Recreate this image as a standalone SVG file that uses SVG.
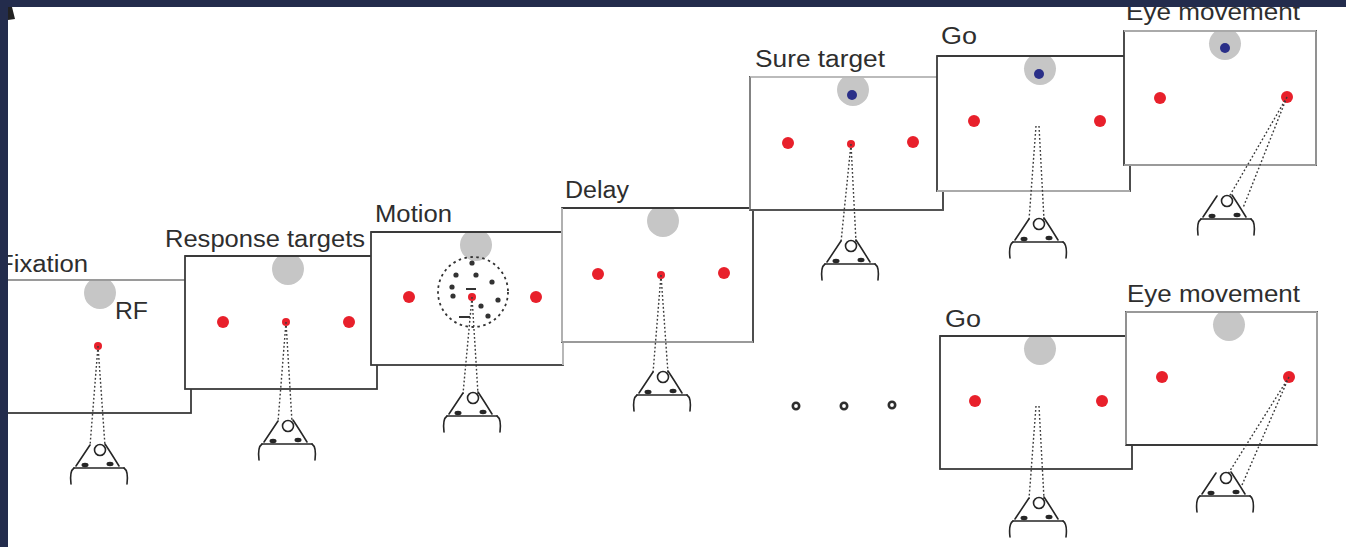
<svg xmlns="http://www.w3.org/2000/svg" xmlns:xlink="http://www.w3.org/1999/xlink" width="1346" height="547" viewBox="0 0 1346 547">
  <style>
    .pn { fill: #ffffff; stroke: #3a3a3a; stroke-width: 1.8; }
    .edge { fill: none; stroke-width: 1.8; }
    .rf { fill: #c6c6c6; }
    .tgt { fill: #e8202b; }
    .fix { fill: #e8202b; }
    .blue { fill: #2a2f88; }
    .sight { fill: none; stroke: #3a3a3a; stroke-width: 1.4; stroke-dasharray: 1.8 2.2; }
    .lbl { font-family: "Liberation Sans", Arial, sans-serif; font-size: 23px; fill: #2e2e2e; }
    .dot { fill: #333333; }
  </style>
  <defs>
    <!-- observer seen from above: head with nose, eyes and shoulders; origin at top of head -->
    <g id="head" fill="none" stroke="#262626" stroke-width="1.6" stroke-linecap="round">
      <path d="M-9,0 Q-15,9 -23,21 M6,-1 Q12,8 20,21"/>
      <circle cx="1" cy="5" r="5.5"/>
      <path d="M-25,23 L25,23"/>
      <path d="M-25,23 C-28,25 -29,31 -28,39 M25,23 C28,25 29,31 28,39"/>
      <ellipse cx="-14" cy="20" rx="3.5" ry="2.2" fill="#262626" stroke="none"/>
      <ellipse cx="11" cy="19" rx="3.5" ry="2.2" fill="#262626" stroke="none"/>
    </g>
  </defs>

  <rect x="0" y="0" width="1346" height="547" fill="#ffffff"/>

  <!-- 1: fixation -->
  <g id="panel-fixation">
    <rect class="pn" x="-2" y="280" width="193" height="133"/>
    <path class="rf" d="M89.4,281 A16,16 0 1 0 110.6,281 Z"/>
    <line class="edge" x1="-2" y1="280" x2="191" y2="280" stroke="#9a9a9a"/>
    <circle class="fix" cx="98" cy="346" r="4"/>
    <text class="lbl" x="115" y="319" textLength="33" lengthAdjust="spacingAndGlyphs">RF</text>
    <path class="sight" d="M98,346 L90,446 M98,346 L105,446"/>
    <use xlink:href="#head" href="#head" x="99" y="445"/>
    <text class="lbl" x="-2" y="272" textLength="90" lengthAdjust="spacingAndGlyphs">Fixation</text>
  </g>

  <!-- 2: response targets -->
  <g id="panel-targets">
    <rect class="pn" x="185" y="256" width="192" height="133"/>
    <path class="rf" d="M277.4,257 A16,16 0 1 0 298.6,257 Z"/>
    <line class="edge" x1="185" y1="256" x2="377" y2="256" stroke="#3a3a3a"/>
    <circle class="tgt" cx="223" cy="322" r="6"/>
    <circle class="fix" cx="286" cy="322" r="4"/>
    <circle class="tgt" cx="349" cy="322" r="6"/>
    <path class="sight" d="M286,322 L278,422 M286,322 L292,422"/>
    <use xlink:href="#head" href="#head" x="287" y="421"/>
    <text class="lbl" x="165" y="247" textLength="200" lengthAdjust="spacingAndGlyphs">Response targets</text>
  </g>

  <!-- 3: motion stimulus -->
  <g id="panel-motion">
    <rect class="pn" x="371" y="232" width="192" height="133"/>
    <path class="rf" d="M465.4,233 A16,16 0 1 0 486.6,233 Z"/>
    <line class="edge" x1="563" y1="232" x2="563" y2="365" stroke="#c4c4c4"/>
    <line class="edge" x1="371" y1="232" x2="563" y2="232" stroke="#3a3a3a"/>
    <circle cx="473" cy="292" r="35" fill="none" stroke="#333" stroke-width="1.8" stroke-dasharray="2.5 3.5"/>
    <g id="motion-dots">
      <circle class="dot" cx="472" cy="263" r="2.6"/>
      <circle class="dot" cx="456" cy="275" r="2.6"/>
      <circle class="dot" cx="476" cy="275" r="2.6"/>
      <circle class="dot" cx="492" cy="282" r="2.6"/>
      <circle class="dot" cx="452" cy="287" r="2.6"/>
      <circle class="dot" cx="453" cy="296" r="2.6"/>
      <circle class="dot" cx="498" cy="300" r="2.6"/>
      <circle class="dot" cx="481" cy="306" r="2.6"/>
      <circle class="dot" cx="488" cy="316" r="2.6"/>
      <path d="M466,289 L476,289 M459,317 L470,317" stroke="#333" stroke-width="1.8" fill="none"/>
    </g>
    <circle class="tgt" cx="409" cy="297" r="6"/>
    <circle class="fix" cx="472" cy="297" r="4"/>
    <circle class="tgt" cx="536" cy="297" r="6"/>
    <path class="sight" d="M472,297 L463,394 M472,297 L478,394"/>
    <use xlink:href="#head" href="#head" x="472" y="393"/>
    <text class="lbl" x="375" y="222" textLength="77" lengthAdjust="spacingAndGlyphs">Motion</text>
  </g>

  <!-- 4: delay -->
  <g id="panel-delay">
    <rect class="pn" x="562" y="208" width="191" height="134"/>
    <path class="rf" d="M652.4,209 A16,16 0 1 0 673.6,209 Z"/>
    <line class="edge" x1="562" y1="208" x2="753" y2="208" stroke="#3a3a3a"/>
    <line class="edge" x1="562" y1="208" x2="562" y2="342" stroke="#bcbcbc"/>
    <line class="edge" x1="562" y1="342" x2="753" y2="342" stroke="#9a9a9a"/>
    <circle class="tgt" cx="598" cy="274" r="6"/>
    <circle class="fix" cx="661" cy="275" r="4"/>
    <circle class="tgt" cx="724" cy="273" r="6"/>
    <path class="sight" d="M661,275 L653,373 M661,275 L668,373"/>
    <use xlink:href="#head" href="#head" x="662" y="372"/>
    <text class="lbl" x="565" y="198" textLength="64" lengthAdjust="spacingAndGlyphs">Delay</text>
  </g>

  <!-- 5: sure target -->
  <g id="panel-sure">
    <rect class="pn" x="750" y="77" width="193" height="133"/>
    <path class="rf" d="M842.4,78 A16,16 0 1 0 863.6,78 Z"/>
    <line class="edge" x1="750" y1="77" x2="943" y2="77" stroke="#bbbbbb"/>
    <line class="edge" x1="750" y1="77" x2="750" y2="210" stroke="#8a8a8a"/>
    <line class="edge" x1="750" y1="210" x2="943" y2="210" stroke="#555555"/>
    <circle class="blue" cx="852" cy="95" r="5"/>
    <circle class="tgt" cx="788" cy="143" r="6"/>
    <circle class="fix" cx="851" cy="144" r="4"/>
    <circle class="tgt" cx="913" cy="142" r="6"/>
    <path class="sight" d="M851,144 L841,242 M851,144 L856,242"/>
    <use xlink:href="#head" href="#head" x="850" y="241"/>
    <text class="lbl" x="755" y="67" textLength="130" lengthAdjust="spacingAndGlyphs">Sure target</text>
  </g>

  <!-- 6: go (upper sequence) -->
  <g id="panel-go-a">
    <rect class="pn" x="937" y="56" width="193" height="135"/>
    <path class="rf" d="M1029.4,57 A16,16 0 1 0 1050.6,57 Z"/>
    <line class="edge" x1="937" y1="56" x2="1130" y2="56" stroke="#3a3a3a"/>
    <line class="edge" x1="937" y1="191" x2="1130" y2="191" stroke="#aaaaaa"/>
    <circle class="blue" cx="1039" cy="74" r="5"/>
    <circle class="tgt" cx="974" cy="121" r="6"/>
    <circle class="tgt" cx="1100" cy="121" r="6"/>
    <path class="sight" d="M1036,126 L1029,220 M1039,126 L1044,220"/>
    <use xlink:href="#head" href="#head" x="1038" y="219"/>
    <text class="lbl" x="941" y="44" textLength="36" lengthAdjust="spacingAndGlyphs">Go</text>
  </g>

  <!-- 7: eye movement (upper sequence) -->
  <g id="panel-eye-a">
    <rect class="pn" x="1124" y="31" width="192" height="134"/>
    <path class="rf" d="M1214.4,32 A16,16 0 1 0 1235.6,32 Z"/>
    <line class="edge" x1="1124" y1="31" x2="1316" y2="31" stroke="#aaaaaa"/>
    <line class="edge" x1="1316" y1="31" x2="1316" y2="165" stroke="#9a9a9a"/>
    <line class="edge" x1="1124" y1="165" x2="1316" y2="165" stroke="#9a9a9a"/>
    <circle class="blue" cx="1225" cy="48" r="5"/>
    <circle class="tgt" cx="1160" cy="98" r="6"/>
    <circle class="tgt" cx="1287" cy="97" r="6"/>
    <path class="sight" d="M1287,97 L1229,197 M1287,97 L1243,208"/>
    <use xlink:href="#head" href="#head" x="1226" y="196"/>
    <text class="lbl" x="1126" y="20" textLength="174" lengthAdjust="spacingAndGlyphs">Eye movement</text>
  </g>

  <!-- elided trials -->
  <g id="ellipsis" fill="#ffffff" stroke="#2e2e2e" stroke-width="2.6">
    <circle cx="796" cy="406" r="3.2"/>
    <circle cx="844" cy="406" r="3.2"/>
    <circle cx="892" cy="405" r="3.2"/>
  </g>

  <!-- 8: go (lower sequence) -->
  <g id="panel-go-b">
    <rect class="pn" x="940" y="336" width="192" height="133"/>
    <path class="rf" d="M1029.4,337 A16,16 0 1 0 1050.6,337 Z"/>
    <line class="edge" x1="940" y1="336" x2="1132" y2="336" stroke="#3a3a3a"/>
    <circle class="tgt" cx="975" cy="401" r="6"/>
    <circle class="tgt" cx="1102" cy="401" r="6"/>
    <path class="sight" d="M1036,406 L1029,499 M1039,406 L1044,499"/>
    <use xlink:href="#head" href="#head" x="1038" y="498"/>
    <text class="lbl" x="945" y="327" textLength="36" lengthAdjust="spacingAndGlyphs">Go</text>
  </g>

  <!-- 9: eye movement (lower sequence) -->
  <g id="panel-eye-b">
    <rect class="pn" x="1126" y="312" width="191" height="133"/>
    <path class="rf" d="M1218.4,313 A16,16 0 1 0 1239.6,313 Z"/>
    <line class="edge" x1="1126" y1="312" x2="1317" y2="312" stroke="#999999"/>
    <line class="edge" x1="1126" y1="312" x2="1126" y2="445" stroke="#999999"/>
    <line class="edge" x1="1317" y1="312" x2="1317" y2="445" stroke="#aaaaaa"/>
    <line class="edge" x1="1126" y1="445" x2="1317" y2="445" stroke="#3a3a3a"/>
    <circle class="tgt" cx="1162" cy="377" r="6"/>
    <circle class="tgt" cx="1289" cy="377" r="6"/>
    <path class="sight" d="M1289,377 L1228,474 M1289,377 L1242,485"/>
    <use xlink:href="#head" href="#head" x="1225" y="473"/>
    <text class="lbl" x="1127" y="302" textLength="173" lengthAdjust="spacingAndGlyphs">Eye movement</text>
  </g>

  <!-- frame -->
  <g id="frame">
    <path d="M8,7 L12,7 L15,19 L8,20 Z" fill="#222222"/>
    <rect x="0" y="0" width="1346" height="7" fill="#232c4c"/>
    <rect x="0" y="0" width="8" height="547" fill="#232c4c"/>
  </g>
</svg>
